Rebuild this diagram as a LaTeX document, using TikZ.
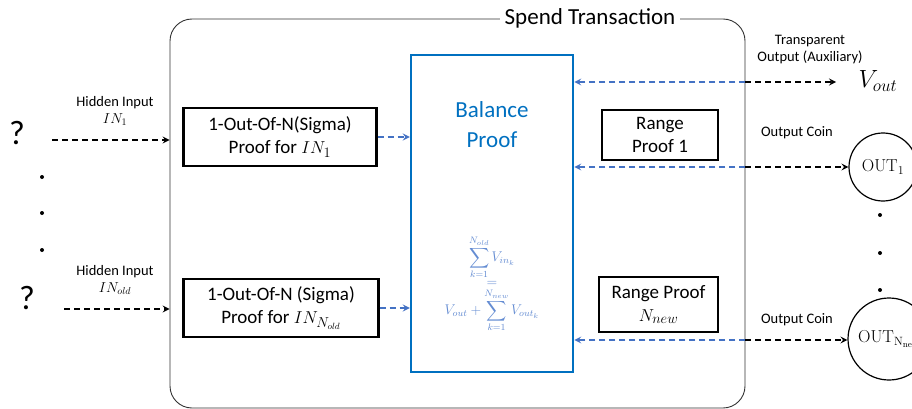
\documentclass[tikz,border=0pt]{standalone}
\usepackage{amsmath}
\usepackage[no-math]{fontspec}
\setmainfont{Carlito}
\usetikzlibrary{calc}

\definecolor{boxblue}{RGB}{0,112,192}
\definecolor{arrblue}{RGB}{68,114,196}
\definecolor{eqblue}{RGB}{100,140,210}

\begin{document}
\begin{tikzpicture}[>=stealth, x=1pt, y=-1pt,
    proofbox/.style={draw, line width=2.2pt, align=center, font=\fontsize{19}{23}\selectfont, inner sep=0pt},
    blkarrow/.style={->, line width=2pt, dash pattern=on 6pt off 4pt},
    bluearrow/.style={->, arrblue, line width=2pt, dash pattern=on 6pt off 4pt},
    smalltext/.style={align=center, font=\fontsize{14.5}{17}\selectfont},
    coin/.style={circle, draw, line width=1.2pt, inner sep=0pt, font=\fontsize{18}{20}\selectfont},
    vdot/.style={circle, fill, inner sep=0pt, minimum size=4pt}]
  \useasboundingbox (0,0) rectangle (912,409);

  % frame of the transaction
  \node[draw=black!80, line width=0.9pt, rounded corners=22pt, minimum width=575pt, minimum height=389pt, inner sep=0pt] (spend) at (457.5,213.5) {};
  \node[fill=white, inner xsep=5pt, font=\fontsize{23}{26}\selectfont] (title) at (590,18) {Spend Transaction};

  % balance proof
  \node[draw=boxblue, line width=2.5pt, minimum width=162pt, minimum height=317pt, inner sep=0pt] (balance) at (492,213.5) {};
  \node[boxblue, align=center, font=\fontsize{23}{30}\selectfont] (baltext) at (492,125) {Balance\\Proof};
  \node[eqblue, align=center, scale=1.17, transform shape, font=\fontsize{12}{13}\selectfont] (baleq) at (492,284) {%
    $\displaystyle\sum_{k=1}^{N_{old}} V_{in_k}$\\[1pt]
    $=$\\[1pt]
    $\displaystyle V_{out}+\sum_{k=1}^{N_{new}} V_{out_k}$};

  % sigma proofs
  \node[proofbox, minimum width=193pt, minimum height=58pt] (sigmaA) at (280,137) {1-Out-Of-N(Sigma)\\Proof for $IN_1$};
  \node[proofbox, minimum width=195pt, minimum height=58pt] (sigmaB) at (281,308) {1-Out-Of-N (Sigma)\\Proof for $IN_{N_{old}}$};

  % range proofs
  \node[proofbox, minimum width=116pt, minimum height=50pt] (rangeA) at (660,135) {Range\\Proof 1};
  \node[proofbox, minimum width=119pt, minimum height=55pt] (rangeB) at (658.5,304.5) {Range Proof\\$N_{new}$};

  % hidden inputs
  \node[font=\fontsize{34}{34}\selectfont] (qA) at (17,133) {?};
  \node[font=\fontsize{34}{34}\selectfont] (qB) at (27,298) {?};
  \node[smalltext] (hidA) at (115,111) {Hidden Input\\$IN_1$};
  \node[smalltext] (hidB) at (115,280) {Hidden Input\\$IN_{old}$};
  \coordinate (inA) at (52,140);
  \coordinate (inB) at (64,309);
  \node[vdot] (ldA) at (42,177) {};
  \node[vdot] (ldB) at (42,213) {};
  \node[vdot] (ldC) at (42,250) {};

  % outputs
  \node[font=\fontsize{24}{26}\selectfont] (vout) at (878,81) {$V_{out}$};
  \node[smalltext] (transp) at (810,50) {Transparent\\Output (Auxiliary)};
  \node[coin, minimum size=68pt] (outA) at (883,167) {$\mathrm{OUT}_1$};
  \node[coin, minimum size=82pt] (outB) at (889,339) {$\mathrm{OUT}_{\mathrm{N_{new}}}$};
  \node[smalltext] (coinA) at (797,133) {Output Coin};
  \node[smalltext] (coinB) at (797,320) {Output Coin};
  \node[vdot] (rdA) at (880,215) {};
  \node[vdot] (rdB) at (880,253) {};
  \node[vdot] (rdC) at (880,290) {};

  % connectors
  \draw[blkarrow] (inA) -- (inA -| spend.west);
  \draw[blkarrow] (inB) -- (inB -| spend.west);
  \draw[bluearrow] (sigmaA.east) -- (sigmaA.east -| balance.west);
  \draw[bluearrow] (sigmaB.east) -- (sigmaB.east -| balance.west);
  \draw[bluearrow] (spend.east |- 0,82) -- (balance.east |- 0,82);
  \draw[bluearrow] (spend.east |- outA) -- (balance.east |- outA);
  \draw[bluearrow] (spend.east |- 0,340) -- (balance.east |- 0,340);
  \draw[blkarrow] (spend.east |- 0,82) -- (836,82);
  \draw[blkarrow] (spend.east |- outA) -- (outA.west);
  \draw[blkarrow] (spend.east |- 0,340) -- (outB.west |- 0,340);
\end{tikzpicture}
\end{document}
